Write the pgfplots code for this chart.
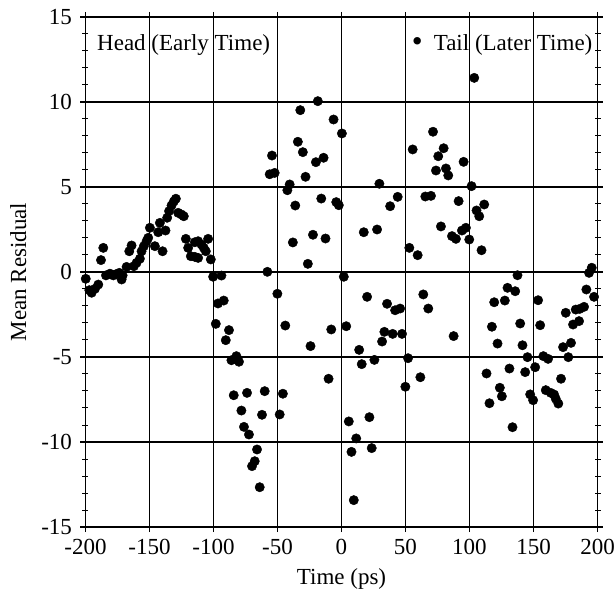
\documentclass[border=0pt]{standalone}
\usepackage{fontspec}
\setmainfont{Liberation Serif}
\usepackage{pgfplots}
\pgfplotsset{compat=1.18}
\begin{document}
\begin{tikzpicture}
\begin{axis}[
  name=ax,
  scale only axis,
  width=512pt, height=510pt,
  xmin=-200, xmax=200, ymin=-15, ymax=15,
  xtick={-200,-150,...,200},
  ytick={-15,-10,...,15},
  minor ytick={-14,-13,...,14},
  grid=major,
  major grid style={black, line width=1.4pt},
  axis line style={line width=1.3pt},
  major tick style={black, line width=1.4pt},
  minor tick style={black, line width=1pt},
  major tick length=10pt,
  minor tick length=6pt,
  tick align=center,
  /pgf/number format/assume math mode=true,
  ticklabel style={font=\fontsize{23}{27}\selectfont},
  xticklabel style={yshift=-4pt},
  yticklabel style={xshift=-5pt},
  label style={font=\fontsize{23}{27}\selectfont},
  xlabel={Time (ps)},
  ylabel={Mean Residual},
  xlabel style={yshift=-7pt},
  ylabel style={yshift=8pt},
  clip=false,
]
\addplot[black, only marks, mark=*, mark size=4.7pt, mark options={fill=black, draw=black}] coordinates {
(-199.8,-0.4) (-197,-1.07) (-195.2,-1.22) (-192.6,-0.99) (-190,-0.74)
(-186.1,1.42) (-187.9,0.7) (-184,-0.2) (-180.9,-0.1) (-178.3,-0.2)
(-176.2,-0.13) (-173.6,-0.05) (-171.8,-0.44) (-171,-0.2) (-167.9,0.3)
(-165.8,1.22) (-164,1.56) (-162.2,0.34) (-160.1,0.54) (-157.5,0.78)
(-156.2,1.22) (-154.4,1.52) (-152.3,1.81) (-151,2.01) (-149.7,2.6)
(-145.8,1.52) (-143.2,2.34) (-141.9,2.89) (-139.8,1.22) (-137.5,2.44)
(-136.2,3.19) (-134.7,3.58) (-132.8,3.91) (-131,4.15) (-129.4,4.31)
(-127.6,3.48) (-125,3.38) (-123.2,3.28) (-121.6,1.95) (-119.8,1.42)
(-117.7,0.93) (-114.6,0.89) (-112,0.83) (-114.6,1.75) (-112,1.81)
(-109.4,1.62) (-107.6,1.42) (-106,1.22) (-104.2,1.95) (-102.1,0.74)
(-100.3,-0.28) (-96.5,-1.85) (-92,-1.68) (-93.8,-0.21)
(-98.2,-3.05) (-87.9,-3.42) (-90.4,-4.01) (-82.1,-4.95) (-86,-5.19) (-80.1,-5.28)
(-84.2,-7.25) (-73.8,-7.11) (-60,-7.01) (-45.8,-7.16)
(-78.2,-8.15) (-62.1,-8.4) (-48.3,-8.38) (-76.2,-9.11) (-72.3,-9.56)
(-66,-10.44) (-67.8,-11.13) (-69.9,-11.42) (-63.9,-12.66)
(-57.9,0.01) (-50.1,-1.28) (-43.9,-3.15)
(-56.1,5.75) (-52.2,5.83) (-54.3,6.85) (-40.5,5.15) (-42.3,4.81)
(-36.1,3.91) (-38,1.74) (-28.1,5.6) (-32.2,9.52) (-34.1,7.66) (-30.2,7.05)
(-18.5,10.05) (-20,6.46) (-14,6.72) (-6.2,8.97) (0.3,8.15)
(-15.8,4.32) (-4.1,4.11) (-2.1,3.93) (-22.3,2.19) (-12.5,1.97) (-26.3,0.48)
(1.8,-0.28) (-8.0,-3.38) (-24.2,-4.36) (-10.1,-6.28) (3.7,-3.19)
(29.6,5.19) (38,3.87) (43.9,4.42) (17.4,2.34) (27.8,2.5)
(20,-1.46) (35.6,-1.87) (41.9,-2.25) (45.8,-2.15) (33.5,-3.52) (40,-3.64)
(47.3,-3.64) (31.7,-4.09) (13.8,-4.58) (15.8,-5.42) (25.7,-5.17) (52,-5.07)
(49.9,-6.75) (61.6,-6.19) (5.7,-8.79) (21.8,-8.54) (11.5,-9.79) (7.8,-10.58)
(23.6,-10.36) (9.6,-13.42)
(53,1.42) (59.5,0.99) (63.9,-1.32) (67.8,-2.15) (87.6,-3.77)
(55.6,7.21) (71.5,8.25) (79.8,7.28) (75.6,6.81) (95.4,6.48) (81.6,6.09)
(83.4,5.68) (73.8,5.97) (65.5,4.44) (69.9,4.48) (91.5,4.17) (77.7,2.68)
(86.3,2.11) (89.4,1.95) (94.1,2.44) (97.2,2.6) (99.8,1.91)
(103.7,11.42) (101.6,5.05) (111.5,3.97) (105.5,3.62) (107.6,3.28) (109.4,1.28)
(137.5,-0.19) (195.5,0.25) (193.4,-0.05) (129.7,-0.93) (135.7,-1.13)
(119.3,-1.78) (127.6,-1.68) (153.6,-1.66) (191.3,-1.03) (197.3,-1.46)
(175.2,-2.4) (183,-2.21) (186.1,-2.17) (189.5,-2.05) (180.9,-3.09) (185.6,-2.89)
(117.5,-3.22) (139.6,-3.03) (155.2,-3.13) (121.9,-4.21) (141.4,-4.31)
(173.1,-4.42) (179.3,-4.17) (145.3,-5.01) (157.7,-4.95) (161.4,-5.11)
(177.2,-5.01) (113.3,-5.97) (131.2,-5.68) (143.5,-5.89) (151.3,-5.6)
(171.5,-6.28) (123.7,-6.81) (125.3,-7.31) (115.6,-7.72) (147.4,-7.2)
(149.7,-7.54) (159.6,-6.95) (163.5,-7.11) (166.1,-7.21) (167.4,-7.46)
(169.4,-7.74) (133.6,-9.13)
};
\node[anchor=base west, inner sep=0pt, font=\fontsize{23}{27}\selectfont] at (axis cs:-191,13.03) {Head (Early Time)};
\node[anchor=base east, inner sep=0pt, font=\fontsize{23}{27}\selectfont] at (axis cs:196.1,13.03) {\raisebox{-1pt}{\fontsize{31}{31}\selectfont\textbullet}\hspace{11pt}Tail (Later Time)};
\end{axis}
\pgfresetboundingbox
\path ([xshift=-85.5pt,yshift=-68pt]ax.south west) rectangle ([xshift=16.5pt,yshift=17pt]ax.north east);
\end{tikzpicture}
\end{document}
